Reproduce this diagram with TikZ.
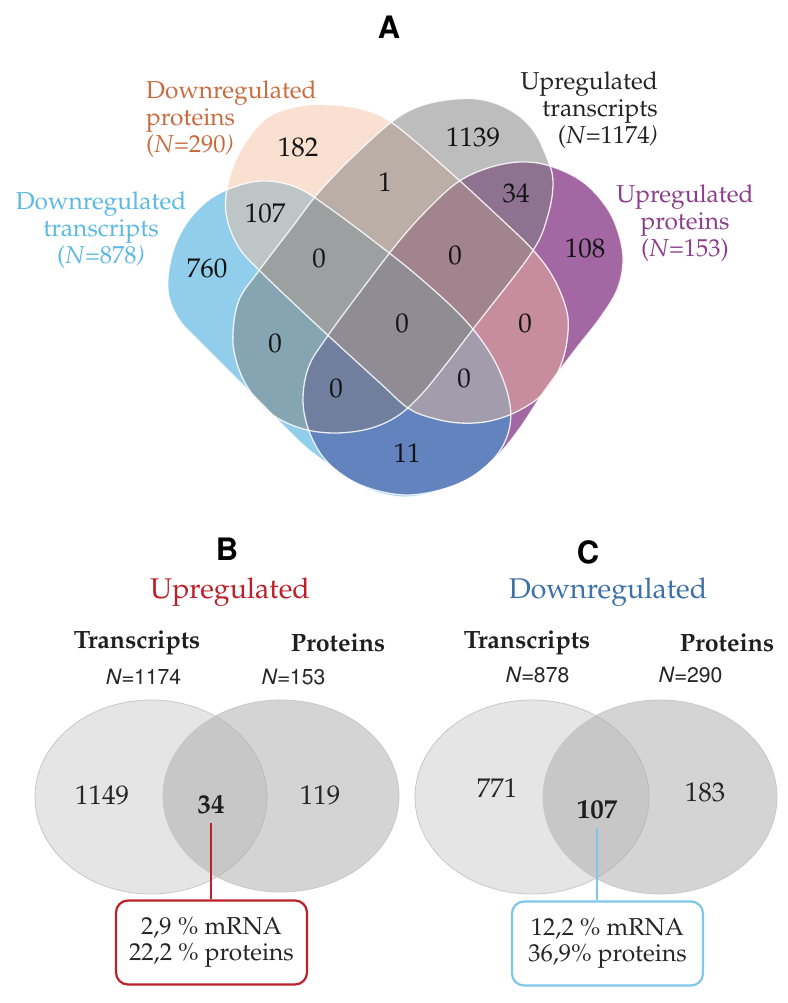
\documentclass[tikz,border=0pt]{standalone}
\usepackage[T1]{fontenc}
\usepackage{mathpazo}
\usepackage[scaled=0.92]{helvet}
\usetikzlibrary{calc}
\definecolor{cBlue}{RGB}{37,159,217}
\definecolor{cPeach}{RGB}{243,187,153}
\definecolor{cGrey}{RGB}{125,125,125}
\definecolor{cPurple}{RGB}{163,104,163}
\definecolor{tOrange}{RGB}{200,108,64}
\definecolor{tBlue}{RGB}{90,185,228}
\definecolor{tPurple}{RGB}{140,62,140}
\definecolor{tDark}{RGB}{35,35,35}
\definecolor{hRed}{RGB}{190,32,42}
\definecolor{hBlue}{RGB}{62,112,168}
\definecolor{boxBlue}{RGB}{125,200,232}
\definecolor{eLeft}{RGB}{229,229,229}
\definecolor{eRight}{RGB}{171,171,171}
\definecolor{eLine}{RGB}{200,200,200}
\newcommand{\shapeBlue}{plot[smooth cycle, tension=0.6] coordinates {
  (168,290) (172,255) (186,224) (210,199) (240,185) (268,181) (298,188) (328,207)
  (375,242) (420,278) (465,320) (493,358) (508,395) (510,425) (499,452) (475,475)
  (442,490) (407,497) (376,492) (350,480) (325,462) (300,442) (250,392) (200,342) (178,318)}}
\newcommand{\shapePurple}{plot[smooth cycle, tension=0.6] coordinates {
  (520,162) (550,166) (583,182) (607,208) (619,235) (623,262) (617,290) (600,318)
  (575,350) (545,390) (520,428) (497,456) (470,478) (440,490) (407,495) (375,490)
  (347,478) (323,457) (308,428) (303,398) (309,366) (327,337) (360,292) (400,240)
  (430,207) (458,182) (488,168)}}
\newcommand{\shapePeach}{plot[smooth cycle, tension=0.6] coordinates {
  (333,105) (365,110) (395,125) (450,172) (500,218) (533,250) (553,277) (566,308)
  (568,332) (562,362) (547,390) (520,410) (490,421) (460,423) (432,418) (408,408)
  (380,383) (320,328) (262,273) (238,246) (226,213) (229,180) (242,148) (267,118) (300,106)}}
\newcommand{\shapeGrey}{plot[smooth cycle, tension=0.6] coordinates {
  (477,99) (510,110) (533,130) (547,158) (553,182) (548,215) (532,252) (480,320)
  (440,372) (418,398) (396,417) (368,429) (333,433) (300,428) (270,413) (248,388)
  (236,360) (233,333) (239,300) (258,272) (290,230) (320,191) (360,150) (400,116) (435,102)}}
\tikzset{
  lab/.style={font=\fontsize{24.5}{27}\selectfont, inner sep=0pt},
  num/.style={font=\fontsize{27}{30}\selectfont, text=black!92, inner sep=0pt},
  head/.style={font={\fontsize{30}{32}\usefont{T1}{phv}{b}{n}}, inner sep=0pt, scale=1.12, transform shape},
  ttl/.style={font=\fontsize{28.5}{30}\selectfont, inner sep=0pt},
  setname/.style={font=\bfseries\fontsize{25}{27}\selectfont, text=black!88, inner sep=0pt},
  nlab/.style={font=\sffamily\fontsize{23}{25}\selectfont, text=black!85, inner sep=0pt},
  bnum/.style={font=\fontsize{27}{30}\selectfont, text=black!85, inner sep=0pt},
  bbold/.style={font=\bfseries\fontsize{27}{30}\selectfont, text=black!88, inner sep=0pt},
  infobox/.style={draw, line width=2.2pt, rounded corners=12pt, fill=white,
    minimum width=191pt, minimum height=84pt, align=center,
    font=\fontsize{24.5}{25.5}\selectfont, text=black!85, inner sep=0pt},
  outl/.style={draw=white, line width=1.3pt, opacity=0.85}
}
\begin{document}
\begin{tikzpicture}[x=1pt,y=-1pt]
\useasboundingbox (0,0) rectangle (787,1003);
\fill[white] (0,0) rectangle (787,1003);
% ---------------- A : four-set diagram ----------------
\path[fill=cPurple] \shapePurple;
\path[fill=cBlue, fill opacity=0.5] \shapeBlue;
\path[fill=cPeach, fill opacity=0.45] \shapePeach;
\path[fill=cGrey, fill opacity=0.5] \shapeGrey;
\path[outl] \shapePurple;
\path[outl] \shapeBlue;
\path[outl] \shapePeach;
\path[outl] \shapeGrey;

\node[head] (hA) at (389,28) {A};
\node[lab, text=tOrange, align=left, anchor=west] (lDP) at (146,119) {Downregulated\\proteins\\(\textit{N}=290\textit{)}};
\node[lab, text=tDark, align=right, anchor=east] (lUT) at (658,110) {Upregulated\\transcripts\\(\textit{N}=1174\textit{)}};
\node[lab, text=tBlue, align=center] (lDT) at (101,230) {Downregulated\\transcripts\\(\textit{N}=878\textit{)}};
\node[lab, text=tPurple, align=center] (lUP) at (685,223) {Upregulated\\proteins\\(\textit{N}=153)};

\node[num] (r182) at (298,147) {182};
\node[num] (r1139) at (473,137) {1139};
\node[num] (r1) at (385,182) {1};
\node[num] (r34) at (516,193) {34};
\node[num] (r107) at (265,213) {107};
\node[num] (r760) at (207,268) {760};
\node[num] (r0a) at (319,258) {0};
\node[num] (r0b) at (455,255) {0};
\node[num] (r108) at (585,248) {108};
\node[num] (r0c) at (402,323) {0};
\node[num] (r0d) at (525,323) {0};
\node[num] (r0e) at (275,343) {0};
\node[num] (r0f) at (336,388) {0};
\node[num] (r0g) at (464,378) {0};
\node[num] (r11) at (407,453) {11};

% ---------------- B : upregulated ----------------
\node[head] (hB) at (227,550) {B};
\node[ttl, text=hRed] (tUp) at (230,592) {Upregulated};
\draw[fill=eLeft, draw=eLine, line width=0.8pt] (151,797) ellipse [x radius=116pt, y radius=97pt];
\fill[eRight, opacity=0.5] (281,796) ellipse [x radius=118pt, y radius=96pt];
\draw[eLine, line width=0.8pt] (281,796) ellipse [x radius=118pt, y radius=96pt];
\node[setname] (bT) at (137,643) {Transcripts};
\node[setname] (bP) at (338,643) {Proteins};
\node[nlab] (bNT) at (143,677) {\textit{N}=1174};
\node[nlab] (bNP) at (293,677) {\textit{N}=153};
\node[bnum] (b1149) at (102,795) {1149};
\node[bbold] (b34) at (211,805) {34};
\node[bnum] (b119) at (320,795) {119};
\node[infobox, draw=hRed] (boxB) at (211.5,942.5) {2,9 \% mRNA\\22,2 \% proteins};
\draw[hRed, line width=2.2pt] (b34.south) ++(0,9) -- (b34.south |- boxB.north);

% ---------------- C : downregulated ----------------
\node[head] (hC) at (588,552) {C};
\node[ttl, text=hBlue] (tDown) at (608,592) {Downregulated};
\draw[fill=eLeft, draw=eLine, line width=0.8pt] (532,797) ellipse [x radius=117pt, y radius=97pt];
\fill[eRight, opacity=0.5] (660,797) ellipse [x radius=117pt, y radius=97pt];
\draw[eLine, line width=0.8pt] (660,797) ellipse [x radius=117pt, y radius=97pt];
\node[setname] (cT) at (527,643) {Transcripts};
\node[setname] (cP) at (727,643) {Proteins};
\node[nlab] (cNT) at (537,675) {\textit{N}=878};
\node[nlab] (cNP) at (690,675) {\textit{N}=290};
\node[bnum] (c771) at (497,788) {771};
\node[bbold] (c107) at (597,810) {107};
\node[bnum] (c183) at (705,792) {183};
\node[infobox, draw=boxBlue] (boxC) at (607.5,943.5) {12,2 \% mRNA\\36,9\% proteins};
\draw[boxBlue, line width=2.2pt] (c107.south) ++(0,9) -- (c107.south |- boxC.north);
\end{tikzpicture}
\end{document}
